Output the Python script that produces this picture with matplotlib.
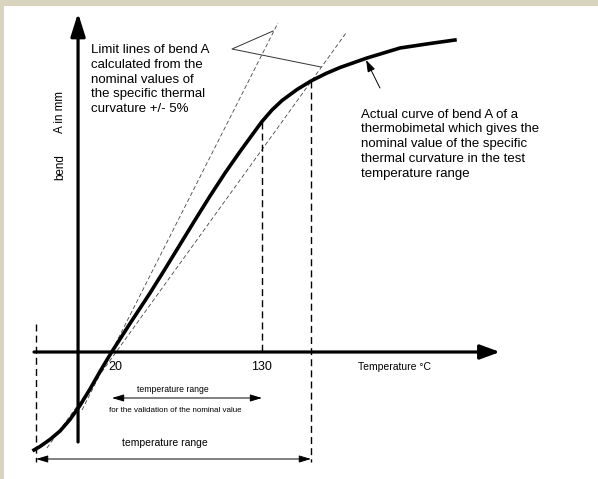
import matplotlib
matplotlib.use('Agg')
import matplotlib.pyplot as plt

plt.rcParams['font.family'] = ['Liberation Sans', 'DejaVu Sans']

# actual bend curve (temperature in degC, bend in arbitrary mm units)
curve_temp = [-37.2, -32.8, -25.5, -18.1, -10.8, -3.5, 3.9, 11.2, 19.3, 33.2, 47.9,
              58.9, 69.9, 80.9, 91.9, 102.9, 113.9, 122.7, 130.0, 137.3, 144.7, 155.7,
              165.9, 176.9, 187.2, 207.0, 231.2, 253.2, 271.5]
curve_bend = [-9.8, -9.45, -8.75, -7.9, -6.75, -5.35, -3.7, -1.95, -0.1, 2.85, 5.9,
              8.3, 10.75, 13.2, 15.6, 17.9, 20.05, 21.7, 23.05, 24.2, 25.15, 26.25,
              27.1, 27.85, 28.45, 29.4, 30.4, 30.85, 31.2]

# limit lines (+/- 5 %)
upper_temp = [-2.0, 141.7]
upper_bend = [-5.8, 32.9]
lower_temp = [-27.7, 191.6]
lower_bend = [-9.6, 31.9]

# marked temperatures
t_start = -35.7
t_low = 20
t_high = 130
t_end = 165.9
bend_at_high = 23.05
bend_at_end = 27.1

bg = '#d9d4be'
fig = plt.figure(figsize=(5.98, 4.79), dpi=100, facecolor=bg)
ax = fig.add_axes([4 / 598, 0, 594 / 598, 473 / 479])
ax.set_facecolor('white')
ax.set_xlim(-59.2, 376.4)
ax.set_ylim(-12.7, 34.6)
ax.set_xticks([])
ax.set_yticks([])
for s in ax.spines.values():
    s.set_visible(False)

# limit lines
for tx, by in [(upper_temp, upper_bend), (lower_temp, lower_bend)]:
    ax.plot(tx, by, color='#444444', lw=0.6, dashes=(5, 3))

# dashed verticals
ax.plot([t_start, t_start], [2.8, -11.0], color='black', lw=1.0, dashes=(5, 3))
ax.plot([t_high, t_high], [bend_at_high, -0.3], color='black', lw=1.0, dashes=(5, 3))
ax.plot([t_end, t_end], [bend_at_end, -11.0], color='black', lw=1.0, dashes=(5, 3))

# axes arrows
ax.annotate('', xy=(304.5, 0), xytext=(-37.2, 0),
            arrowprops=dict(arrowstyle='-|>,head_length=0.6,head_width=0.22', lw=2.3,
                            color='black', mutation_scale=20, shrinkA=0, shrinkB=0))
ax.annotate('', xy=(-4.9, 33.9), xytext=(-4.9, -9.0),
            arrowprops=dict(arrowstyle='-|>,head_length=0.7,head_width=0.22', lw=2.3,
                            color='black', mutation_scale=20, shrinkA=0, shrinkB=0))

# curve
ax.plot(curve_temp, curve_bend, color='black', lw=2.6, solid_joinstyle='round')

# leader lines for limit lines label
ax.plot([138.1, 108.0, 173.3], [32.1, 30.3, 28.5], color='#333333', lw=0.7)

# arrow to curve
ax.annotate('', xy=(206.3, 29.2), xytext=(216.5, 26.4),
            arrowprops=dict(arrowstyle='-|>,head_length=0.6,head_width=0.2', lw=0.7,
                            color='black', mutation_scale=12, shrinkA=0, shrinkB=0))

# range arrows
ax.annotate('', xy=(t_high, -4.6), xytext=(t_low, -4.6),
            arrowprops=dict(arrowstyle='<|-|>,head_length=0.6,head_width=0.18', lw=0.7,
                            color='black', mutation_scale=12, shrinkA=0, shrinkB=0))
ax.annotate('', xy=(t_end, -10.7), xytext=(t_start, -10.7),
            arrowprops=dict(arrowstyle='<|-|>,head_length=0.6,head_width=0.18', lw=0.7,
                            color='black', mutation_scale=12, shrinkA=0, shrinkB=0))

# texts
ax.text(22.2, -1.45, '20', fontsize=9, ha='center', va='center')
ax.text(t_high, -1.45, '130', fontsize=9, ha='center', va='center')
ax.text(200.4, -1.45, 'Temperature °C', fontsize=7.5, ha='left', va='center')
ax.text(64.7, -3.7, 'temperature range', fontsize=6.2, ha='center', va='center')
ax.text(66.2, -5.8, 'for the validation of the nominal value', fontsize=5.8,
        ha='center', va='center')
ax.text(58.9, -9.1, 'temperature range', fontsize=7.5, ha='center', va='center')

ax.text(4.6, 30.8, 'Limit lines of bend A\ncalculated from the\nnominal values of\n'
        'the specific thermal\ncurvature +/- 5%', fontsize=9.5, ha='left', va='top',
        linespacing=1.31)
ax.text(202.6, 24.35, 'Actual curve of bend A of a\nthermobimetal which gives the\n'
        'nominal value of the specific\nthermal curvature in the test\n'
        'temperature range', fontsize=9.5, ha='left', va='top', linespacing=1.31)

ax.text(-18.1, 18.5, 'bend', fontsize=8.4, rotation=90, ha='center', va='center')
ax.text(-18.1, 24.0, 'A in mm', fontsize=8.4, rotation=90, ha='center', va='center')

fig.savefig('out.png', dpi=100, facecolor=bg)
